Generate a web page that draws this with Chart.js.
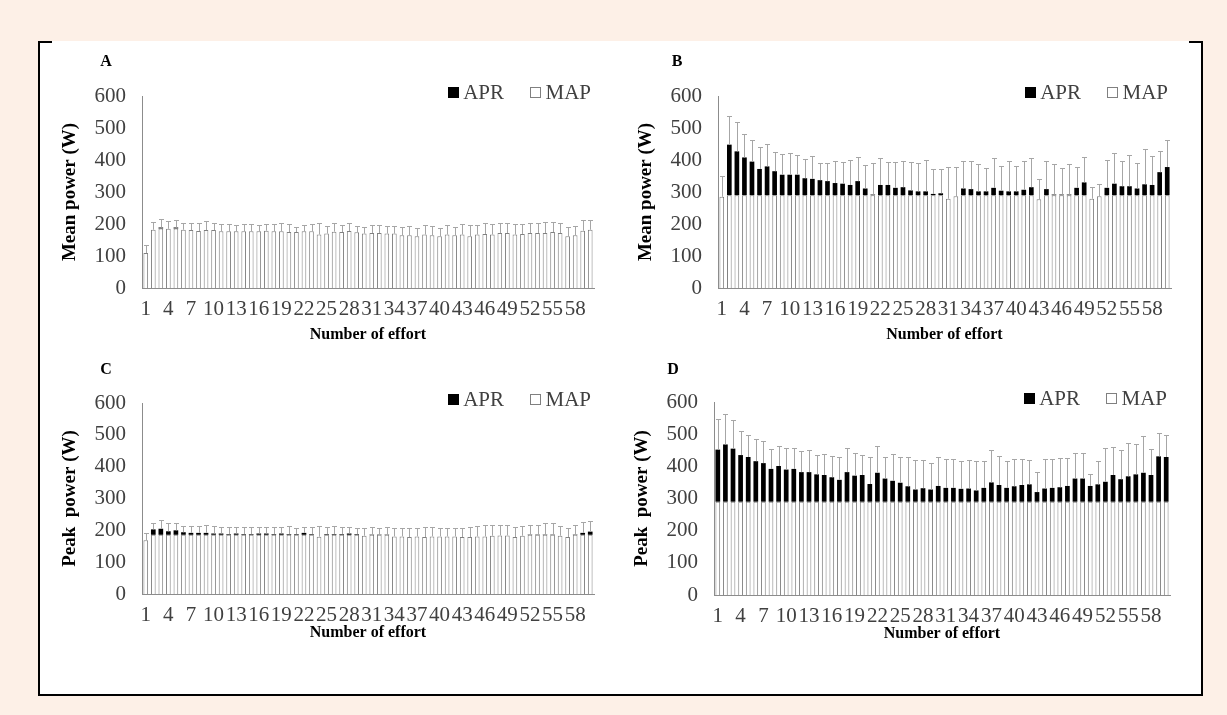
<!DOCTYPE html>
<html>
<head>
<meta charset="utf-8">
<title>Mean and peak power per effort</title>
<script src="https://cdn.jsdelivr.net/npm/chart.js@4.4.1/dist/chart.umd.min.js"></script>
<style>
    html, body { margin: 0; padding: 0; }
    body { width: 1227px; height: 715px; background: #fdf0e7; position: relative; overflow: hidden; }
    #frame { position: absolute; left: 38px; top: 41px; width: 1165px; height: 655px; box-sizing: border-box;
             background: #fff; border: 2px solid #000; border-top: none; }
    .corner { position: absolute; top: 41px; width: 14px; height: 2px; background: #000; }
    canvas { position: absolute; }
</style>
</head>
<body>
<div id="frame"></div>
<div class="corner" style="left:38px"></div>
<div class="corner" style="left:1189px"></div>
<canvas id="chartA" width="580" height="329" style="left:40px;top:43px;width:580px;height:329px"></canvas>
<canvas id="chartB" width="580" height="329" style="left:620px;top:43px;width:580px;height:329px"></canvas>
<canvas id="chartC" width="580" height="328" style="left:40px;top:350px;width:580px;height:328px"></canvas>
<canvas id="chartD" width="580" height="329" style="left:620px;top:350px;width:580px;height:329px"></canvas>
<script>
// --- data ---
const effortLabels = ['1', '2', '3', '4', '5', '6', '7', '8', '9', '10',
    '11', '12', '13', '14', '15', '16', '17', '18', '19', '20',
    '21', '22', '23', '24', '25', '26', '27', '28', '29', '30',
    '31', '32', '33', '34', '35', '36', '37', '38', '39', '40',
    '41', '42', '43', '44', '45', '46', '47', '48', '49', '50',
    '51', '52', '53', '54', '55', '56', '57', '58', '59', '60'];

// MAP level of each group (W): power above it is drawn as APR
const mapLevelAC = 186;
const mapLevelBD = 290;

// A - mean power, group 1
const meanPowerA = [109, 182, 189, 185, 189, 182, 181, 178, 181, 181,
    177, 177, 177, 177, 177, 177, 179, 177, 177, 175,
    175, 177, 177, 167, 170, 176, 175, 178, 174, 170,
    172, 172, 170, 170, 165, 165, 162, 167, 165, 162,
    167, 165, 167, 162, 167, 169, 167, 172, 172, 167,
    169, 172, 172, 172, 175, 172, 162, 165, 179, 182];
const meanSdA = [25, 23, 26, 24, 22, 21, 22, 25, 27, 23,
    22, 22, 20, 22, 22, 20, 20, 22, 25, 24,
    17, 20, 23, 35, 24, 28, 22, 24, 20, 21,
    25, 25, 24, 24, 27, 29, 27, 30, 29, 27,
    30, 27, 32, 35, 30, 33, 32, 30, 30, 32,
    30, 32, 32, 35, 31, 30, 28, 30, 33, 30];

// B - mean power, group 2
const meanPowerB = [285, 448, 427, 408, 395, 372, 380, 365, 354, 354,
    354, 343, 341, 337, 334, 328, 326, 322, 334, 311,
    292, 322, 322, 313, 315, 305, 302, 302, 294, 296,
    279, 287, 311, 309, 302, 302, 313, 304, 302, 302,
    307, 315, 277, 309, 292, 292, 292, 313, 330, 279,
    287, 313, 326, 318, 318, 311, 324, 322, 362, 378];
const meanSdB = [64, 90, 91, 74, 68, 69, 70, 60, 65, 67,
    63, 61, 71, 55, 58, 68, 68, 78, 76, 72,
    98, 83, 72, 81, 83, 89, 90, 98, 77, 77,
    99, 91, 87, 89, 87, 73, 92, 78, 96, 80,
    91, 92, 63, 87, 95, 84, 95, 65, 79, 38,
    38, 88, 95, 80, 99, 79, 109, 90, 67, 85];

// C - peak power, group 1
const peakPowerC = [169, 203, 205, 197, 200, 194, 192, 192, 192, 190,
    190, 188, 190, 188, 188, 190, 190, 188, 190, 188,
    188, 192, 188, 180, 188, 188, 188, 190, 188, 183,
    187, 187, 187, 181, 181, 179, 181, 179, 181, 181,
    181, 181, 179, 179, 181, 181, 183, 184, 184, 179,
    183, 187, 187, 187, 187, 183, 179, 187, 192, 196];
const peakSdC = [23, 21, 26, 27, 24, 21, 23, 23, 26, 25,
    22, 22, 22, 22, 22, 20, 20, 24, 22, 27,
    18, 18, 22, 35, 22, 27, 22, 22, 20, 23,
    23, 21, 23, 25, 27, 27, 27, 31, 29, 27,
    27, 27, 29, 31, 32, 35, 33, 32, 32, 33,
    30, 31, 31, 37, 36, 30, 29, 31, 34, 32];

// D - peak power, group 2
const peakPowerD = [452, 468, 455, 435, 429, 416, 410, 392, 401, 390,
    392, 382, 382, 375, 373, 366, 358, 382, 371, 373,
    345, 380, 362, 355, 349, 338, 328, 332, 328, 339,
    333, 333, 330, 331, 325, 333, 350, 342, 333, 338,
    342, 344, 320, 331, 333, 335, 339, 362, 362, 339,
    344, 352, 373, 360, 369, 375, 380, 373, 431, 429];
const peakSdD = [95, 96, 89, 74, 68, 68, 69, 63, 63, 68,
    64, 66, 69, 60, 66, 67, 70, 74, 71, 62,
    85, 84, 66, 82, 81, 90, 91, 87, 82, 89,
    90, 91, 86, 89, 93, 85, 102, 89, 84, 86,
    80, 76, 62, 91, 89, 90, 88, 78, 80, 36,
    74, 106, 88, 90, 103, 94, 115, 81, 74, 68];

// --- look ---
const serif = "'Liberation Serif', 'Times New Roman', serif";
Chart.defaults.font.family = serif;
Chart.defaults.color = '#404040';

const tickSize = 21;
const legendSize = 21;
const letterSize = 16;
const xTitleSize = 16;
const yTitleSize = 19;

// plot box of each panel, in canvas pixels (left/right/top/bottom edges);
// titleGap = distance from the x axis down to the centre of its title
const panels = [
    { id: 'chartA', letter: 'A', yTitle: 'Mean power (W)', power: meanPowerA, sd: meanSdA, map: mapLevelAC,
      plot: { left: 102, right: 554, top: 53, bottom: 245 }, titleGap: 47, letterX: -36, letterY: -34 },
    { id: 'chartB', letter: 'B', yTitle: 'Mean power (W)', power: meanPowerB, sd: meanSdB, map: mapLevelBD,
      plot: { left: 98, right: 551, top: 53, bottom: 245 }, titleGap: 47, letterX: -41, letterY: -34 },
    { id: 'chartC', letter: 'C', yTitle: 'Peak  power (W)', power: peakPowerC, sd: peakSdC, map: mapLevelAC,
      plot: { left: 102, right: 554, top: 53, bottom: 244 }, titleGap: 39, letterX: -36, letterY: -33 },
    { id: 'chartD', letter: 'D', yTitle: 'Peak  power (W)', power: peakPowerD, sd: peakSdD, map: mapLevelBD,
      plot: { left: 94, right: 550, top: 52, bottom: 245 }, titleGap: 39, letterX: -41, letterY: -32 }
];

// error bars (mean + SD) on top of each stacked bar
const errorBarPlugin = {
    id: 'errorBars',
    afterDatasetsDraw(chart, args, opts) {
        const { ctx, scales: { x, y } } = chart;
        ctx.save();
        ctx.strokeStyle = opts.color;
        ctx.lineWidth = 1;
        opts.values.forEach((v, i) => {
            const px = Math.round(x.getPixelForValue(i)) + 0.5;
            const yBar = y.getPixelForValue(v);
            const yCap = Math.round(y.getPixelForValue(v + opts.sd[i])) + 0.5;
            ctx.beginPath();
            ctx.moveTo(px, yBar);
            ctx.lineTo(px, yCap);
            ctx.moveTo(px - opts.cap, yCap);
            ctx.lineTo(px + opts.cap, yCap);
            ctx.stroke();
        });
        ctx.restore();
    }
};

// panel letter and the small legend sitting level with the top tick
const panelDecorPlugin = {
    id: 'panelDecor',
    afterDraw(chart, args, opts) {
        const { ctx, chartArea } = chart;
        ctx.save();
        ctx.textBaseline = 'middle';
        ctx.textAlign = 'center';
        ctx.fillStyle = '#000';
        ctx.font = `bold ${letterSize}px ${serif}`;
        ctx.fillText(opts.letter, chartArea.left + opts.letterX, chartArea.top + opts.letterY);

        ctx.font = `${legendSize}px ${serif}`;
        ctx.textAlign = 'left';
        const ly = chartArea.top - 3;
        let xr = chartArea.right - 3;
        // dataset 0 (MAP) is the rightmost item, APR to its left
        chart.data.datasets.forEach(ds => {
            const w = ctx.measureText(ds.label).width;
            ctx.fillStyle = '#404040';
            ctx.fillText(ds.label, xr - w, ly);
            const bx = Math.round(xr - w - 4 - 11);
            const by = Math.round(ly - 6);
            ctx.fillStyle = ds.backgroundColor;
            ctx.fillRect(bx, by, 11, 11);
            if (ds.borderWidth) {
                ctx.strokeStyle = ds.borderColor;
                ctx.lineWidth = 1;
                ctx.strokeRect(bx + 0.5, by + 0.5, 10, 10);
            }
            xr = bx - 26;
        });
        ctx.restore();
    }
};

function drawPanel(p) {
    const canvas = document.getElementById(p.id);
    const xAxisHeight = canvas.height - p.plot.bottom;

    new Chart(canvas, {
        type: 'bar',
        data: {
            labels: effortLabels,
            datasets: [
                {
                    label: 'MAP',
                    data: p.power.map(v => Math.min(v, p.map)),
                    backgroundColor: '#ffffff',
                    borderColor: '#808080',
                    borderWidth: 1
                },
                {
                    label: 'APR',
                    data: p.power.map(v => Math.max(v - p.map, 0)),
                    backgroundColor: '#000000',
                    borderColor: '#000000',
                    borderWidth: 0
                }
            ]
        },
        options: {
            responsive: false,
            animation: false,
            events: [],
            barPercentage: 0.62,
            categoryPercentage: 1,
            layout: {
                padding: { left: 0, top: p.plot.top, right: canvas.width - p.plot.right, bottom: 0 }
            },
            scales: {
                x: {
                    stacked: true,
                    grid: { display: false, drawTicks: false },
                    border: { display: true, color: '#8c8c8c', width: 1 },
                    ticks: {
                        autoSkip: false,
                        maxRotation: 0,
                        padding: 9,
                        font: { size: tickSize },
                        callback: function (value, index) {
                            return index % 3 === 0 ? this.getLabelForValue(value) : '';
                        }
                    },
                    title: {
                        display: true,
                        text: 'Number of effort',
                        color: '#000',
                        font: { size: xTitleSize, weight: 'bold' },
                        padding: { top: 0, bottom: xAxisHeight - p.titleGap - xTitleSize * 0.6 }
                    },
                    afterFit: (scale) => { scale.height = xAxisHeight; }
                },
                y: {
                    stacked: true,
                    min: 0,
                    max: 600,
                    grid: { display: false, drawTicks: false },
                    border: { display: true, color: '#8c8c8c', width: 1 },
                    ticks: { stepSize: 100, padding: 16, font: { size: tickSize } },
                    title: {
                        display: true,
                        text: p.yTitle,
                        color: '#000',
                        font: { size: yTitleSize, weight: 'bold' },
                        padding: { top: p.plot.left - 71.5 - yTitleSize * 0.6, bottom: 0 }
                    },
                    afterFit: (scale) => { scale.width = p.plot.left; }
                }
            },
            plugins: {
                legend: { display: false },
                tooltip: { enabled: false },
                errorBars: { values: p.power, sd: p.sd, color: '#a6a6a6', cap: 2.5 },
                panelDecor: { letter: p.letter, letterX: p.letterX, letterY: p.letterY }
            }
        },
        plugins: [errorBarPlugin, panelDecorPlugin]
    });
}

panels.forEach(drawPanel);
</script>
</body>
</html>
